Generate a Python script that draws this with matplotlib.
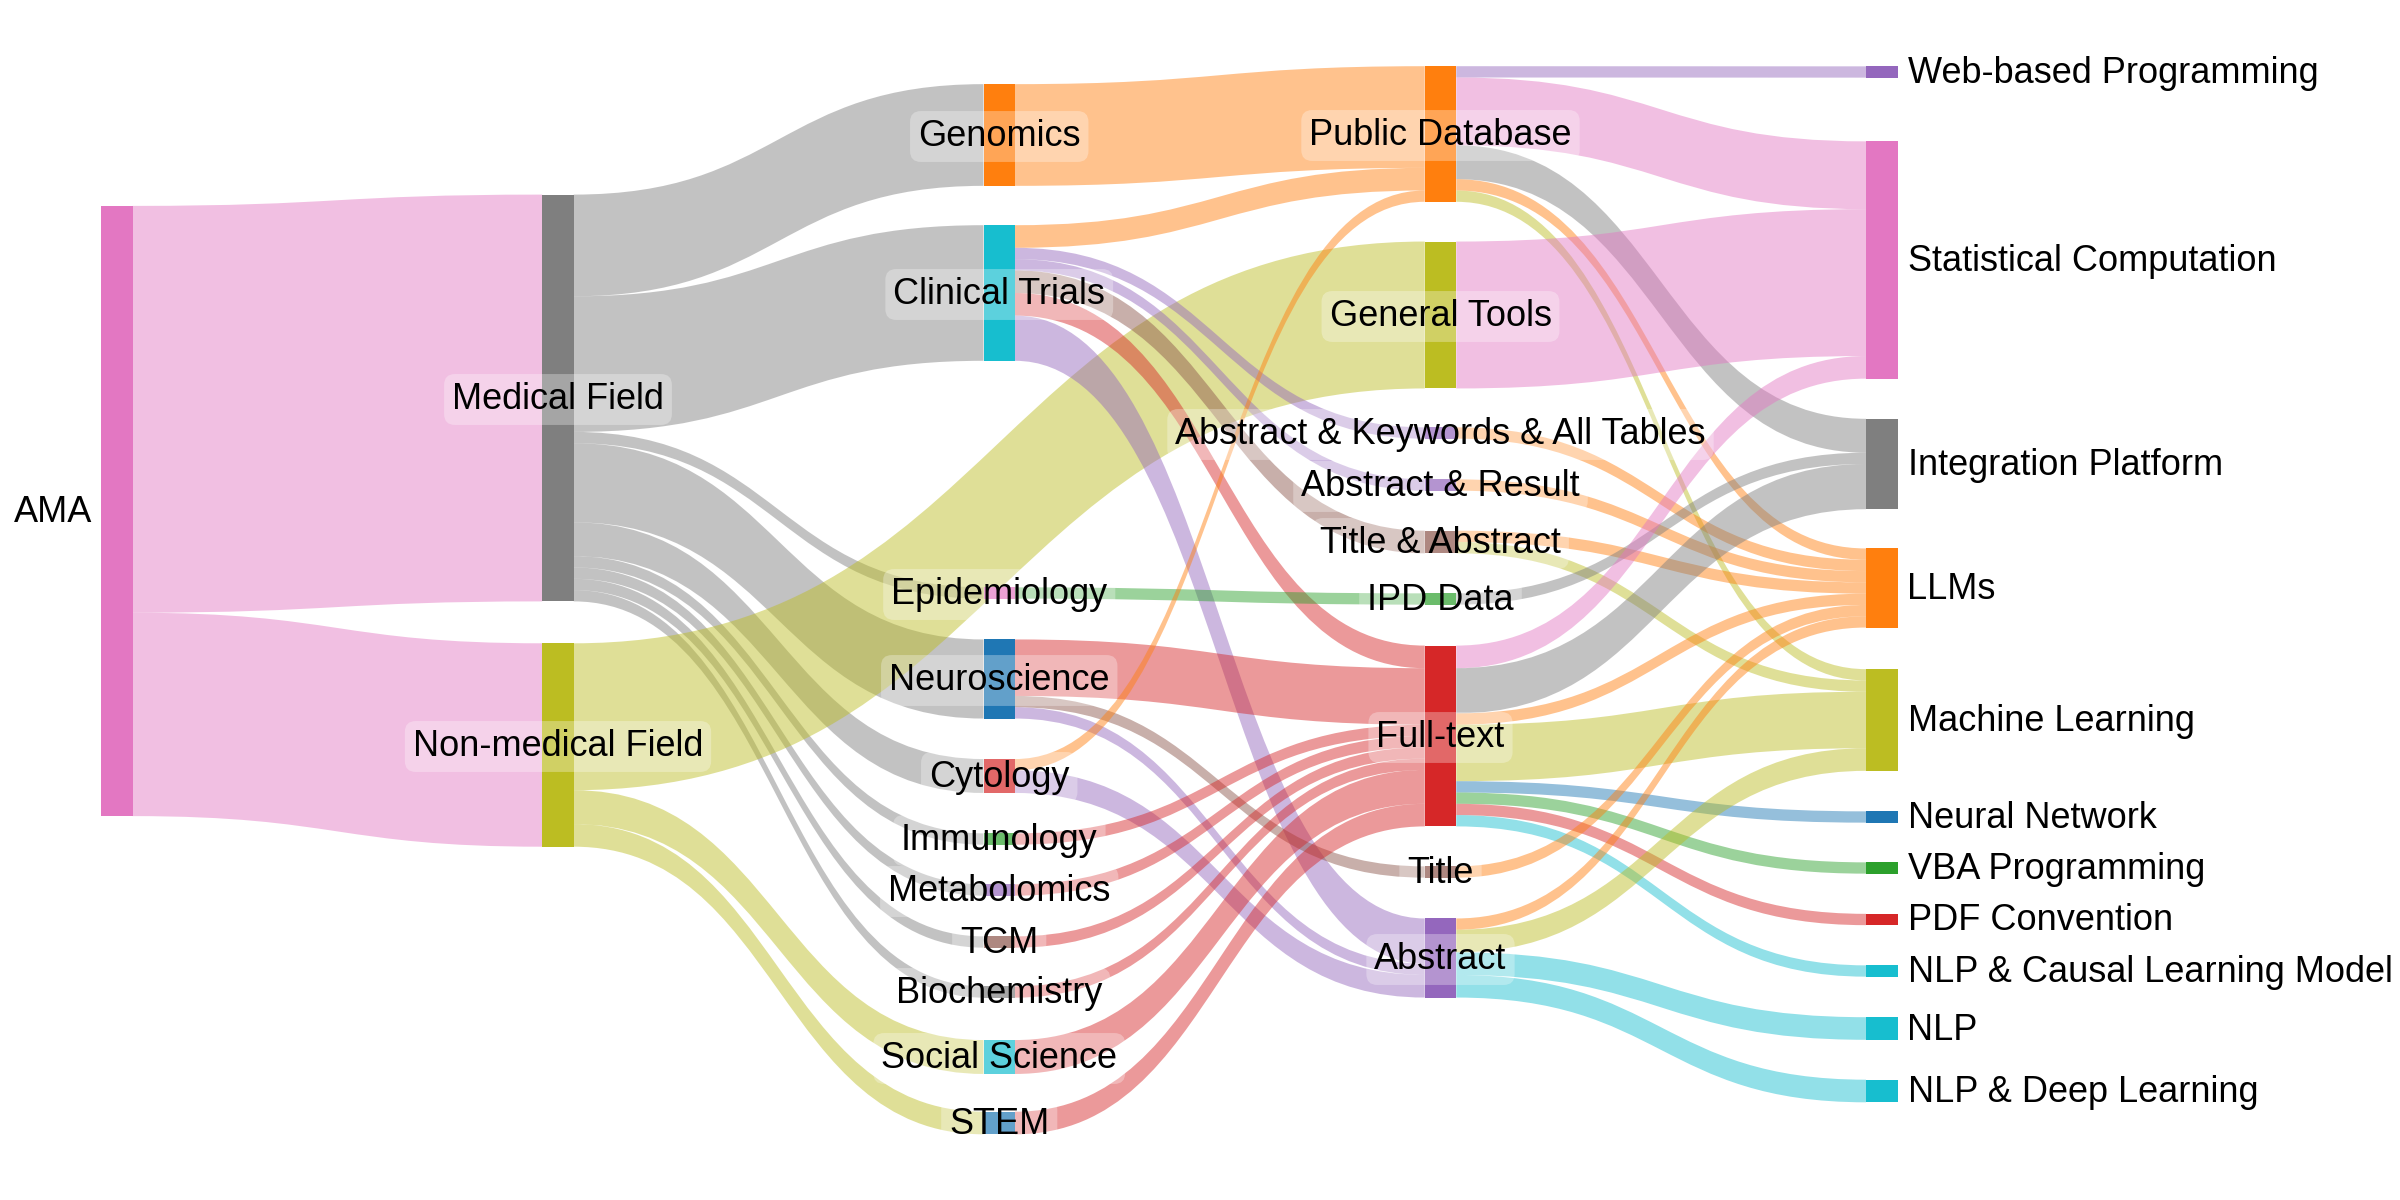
import matplotlib
matplotlib.use("Agg")
import matplotlib.pyplot as plt
from matplotlib.path import Path
from matplotlib.patches import PathPatch, Rectangle
from matplotlib.colors import to_rgba

plt.rcParams['font.family'] = ['Liberation Sans', 'DejaVu Sans']

# nodes, column by column (left to right)
col0 = ["AMA"]
col1 = ["Medical Field", "Non-medical Field"]
col2 = ["Genomics", "Clinical Trials", "Epidemiology", "Neuroscience", "Cytology",
        "Immunology", "Metabolomics", "TCM", "Biochemistry", "Social Science", "STEM"]
col3 = ["Public Database", "General Tools", "Abstract & Keywords & All Tables",
        "Abstract & Result", "Title & Abstract", "IPD Data", "Full-text", "Title", "Abstract"]
col4 = ["Web-based Programming", "Statistical Computation", "Integration Platform", "LLMs",
        "Machine Learning", "Neural Network", "VBA Programming", "PDF Convention",
        "NLP & Causal Learning Model", "NLP", "NLP & Deep Learning"]

# links (source, target, number of studies)
src = ["AMA", "AMA",
       "Medical Field", "Medical Field", "Medical Field", "Medical Field", "Medical Field",
       "Medical Field", "Medical Field", "Medical Field", "Medical Field",
       "Non-medical Field", "Non-medical Field", "Non-medical Field",
       "Genomics",
       "Clinical Trials", "Clinical Trials", "Clinical Trials", "Clinical Trials",
       "Clinical Trials", "Clinical Trials",
       "Epidemiology",
       "Neuroscience", "Neuroscience", "Neuroscience",
       "Cytology", "Cytology",
       "Immunology", "Metabolomics", "TCM", "Biochemistry", "Social Science", "STEM",
       "Public Database", "Public Database", "Public Database", "Public Database", "Public Database",
       "General Tools",
       "Abstract & Keywords & All Tables", "Abstract & Result",
       "Title & Abstract", "Title & Abstract",
       "IPD Data",
       "Full-text", "Full-text", "Full-text", "Full-text", "Full-text", "Full-text",
       "Full-text", "Full-text",
       "Title",
       "Abstract", "Abstract", "Abstract", "Abstract"]
tgt = ["Medical Field", "Non-medical Field",
       "Genomics", "Clinical Trials", "Epidemiology", "Neuroscience", "Cytology",
       "Immunology", "Metabolomics", "TCM", "Biochemistry",
       "General Tools", "Social Science", "STEM",
       "Public Database",
       "Public Database", "Abstract & Keywords & All Tables", "Abstract & Result",
       "Title & Abstract", "Full-text", "Abstract",
       "IPD Data",
       "Full-text", "Title", "Abstract",
       "Public Database", "Abstract",
       "Full-text", "Full-text", "Full-text", "Full-text", "Full-text", "Full-text",
       "Web-based Programming", "Statistical Computation", "Integration Platform", "LLMs",
       "Machine Learning",
       "Statistical Computation",
       "LLMs", "LLMs",
       "LLMs", "Machine Learning",
       "Integration Platform",
       "Statistical Computation", "Integration Platform", "LLMs", "Machine Learning",
       "Neural Network", "VBA Programming", "PDF Convention", "NLP & Causal Learning Model",
       "LLMs",
       "LLMs", "Machine Learning", "NLP", "NLP & Deep Learning"]
val = [36, 18,
       9, 12, 1, 7, 3, 1, 1, 1, 1,
       13, 3, 2,
       9,
       2, 1, 1, 2, 2, 4,
       1,
       5, 1, 1,
       1, 2,
       1, 1, 1, 1, 3, 2,
       1, 6, 3, 1, 1,
       13,
       1, 1,
       1, 1,
       1,
       2, 4, 1, 5, 1, 1, 1, 1,
       1,
       1, 2, 2, 2]

# ---- layout / style ----
T10 = {"blue": "#1f77b4", "orange": "#ff7f0e", "green": "#2ca02c", "red": "#d62728",
       "purple": "#9467bd", "brown": "#8c564b", "pink": "#e377c2", "gray": "#7f7f7f",
       "olive": "#bcbd22", "cyan": "#17becf"}
node_color = {
    "AMA": "pink", "Medical Field": "gray", "Non-medical Field": "olive",
    "Genomics": "orange", "Clinical Trials": "cyan", "Epidemiology": "pink",
    "Neuroscience": "blue", "Cytology": "red", "Immunology": "green",
    "Metabolomics": "purple", "TCM": "brown", "Biochemistry": "gray",
    "Social Science": "cyan", "STEM": "blue",
    "Public Database": "orange", "General Tools": "olive",
    "Abstract & Keywords & All Tables": "purple", "Abstract & Result": "purple",
    "Title & Abstract": "brown", "IPD Data": "green", "Full-text": "red",
    "Title": "brown", "Abstract": "purple",
    "Web-based Programming": "purple", "Statistical Computation": "pink",
    "Integration Platform": "gray", "LLMs": "orange", "Machine Learning": "olive",
    "Neural Network": "blue", "VBA Programming": "green", "PDF Convention": "red",
    "NLP & Causal Learning Model": "cyan", "NLP": "cyan", "NLP & Deep Learning": "cyan",
}
# node centre heights (pixels from top, like plotly node.y)
node_yc = [
    [511],
    [398, 745],
    [135, 293, 593, 679, 776, 839, 890, 942, 992, 1057, 1123],
    [134, 315, 433, 485, 542, 599, 736, 872, 958],
    [72, 260, 464, 588, 720, 817, 868, 919.5, 971, 1028.5, 1091],
]
W, H = 2400, 1200
X0, DX, NODE_W = 101, 441.25, 31.5
UNIT = 11.3          # pixels per study
LINK_ALPHA = 0.47
FS = 26
CAP_SHIFT = 11       # baseline offset so capitals sit on the node centre

cols = [col0, col1, col2, col3, col4]
col_of, yc = {}, {}
for ci, c in enumerate(cols):
    for n, y in zip(c, node_yc[ci]):
        col_of[n] = ci
        yc[n] = y

inflow = {n: 0 for n in yc}
outflow = {n: 0 for n in yc}
for s, t, v in zip(src, tgt, val):
    outflow[s] += v
    inflow[t] += v
size = {n: max(inflow[n], outflow[n]) * UNIT for n in yc}
top = {n: yc[n] - size[n] / 2 for n in yc}
xleft = {n: X0 + col_of[n] * DX for n in yc}

# stack links at both ends
order = sorted(range(len(val)), key=lambda i: (col_of[src[i]], yc[src[i]], yc[tgt[i]]))
s_off = {n: top[n] for n in yc}
ends = {}
for i in order:
    ends[i] = [s_off[src[i]]]
    s_off[src[i]] += val[i] * UNIT
t_off = {n: top[n] for n in yc}
for i in sorted(range(len(val)), key=lambda i: (yc[tgt[i]], yc[src[i]])):
    ends[i].append(t_off[tgt[i]])
    t_off[tgt[i]] += val[i] * UNIT

fig = plt.figure(figsize=(W / 100, H / 100), dpi=100)
ax = fig.add_axes([0, 0, 1, 1])
ax.set_xlim(0, W)
ax.set_ylim(H, 0)
ax.axis("off")

for i in range(len(val)):
    s, t = src[i], tgt[i]
    x0 = xleft[s] + NODE_W
    x1 = xleft[t]
    xm = (x0 + x1) / 2
    h = val[i] * UNIT
    ya, yb = ends[i]
    verts = [(x0, ya), (xm, ya), (xm, yb), (x1, yb),
             (x1, yb + h), (xm, yb + h), (xm, ya + h), (x0, ya + h), (x0, ya)]
    codes = [Path.MOVETO, Path.CURVE4, Path.CURVE4, Path.CURVE4,
             Path.LINETO, Path.CURVE4, Path.CURVE4, Path.CURVE4, Path.CLOSEPOLY]
    # first two stages take the source colour, later stages the target colour
    cname = node_color[s] if col_of[s] <= 1 else node_color[t]
    ax.add_patch(PathPatch(Path(verts, codes), fc=to_rgba(T10[cname], LINK_ALPHA),
                           ec="none", lw=0, zorder=1))

for n in yc:
    ax.add_patch(Rectangle((xleft[n], top[n]), NODE_W, size[n],
                           fc=T10[node_color[n]], ec="none", zorder=2))

box = dict(boxstyle="round,pad=0.22,rounding_size=0.3", fc=(1, 1, 1, 0.3), ec="none")
for n in yc:
    ci = col_of[n]
    ty = yc[n] + CAP_SHIFT
    if ci == 0:
        ax.text(xleft[n] - 9, ty, n, ha="right", va="baseline", fontsize=FS, zorder=3)
    elif ci == len(cols) - 1:
        ax.text(xleft[n] + NODE_W + 10, ty, n, ha="left", va="baseline",
                fontsize=FS, zorder=3)
    else:
        ax.text(xleft[n] + NODE_W / 2, ty, n, ha="center", va="baseline",
                fontsize=FS, bbox=box, zorder=3)

fig.savefig("out.png", dpi=100)
